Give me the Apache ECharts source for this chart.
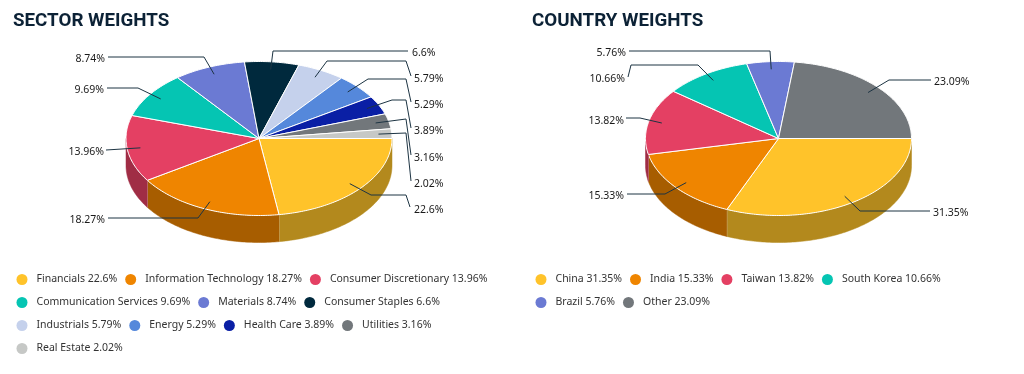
<!DOCTYPE html>
<html>
<head>
<meta charset="utf-8">
<style>html,body{margin:0;padding:0;background:#fff}#c{width:1024px;height:374px}</style>
<script src="https://cdn.jsdelivr.net/npm/echarts@6/dist/echarts.min.js"></script>
</head>
<body>
<div id="c"></div>
<script>
// ---- data ----
const sectorNames = ['Financials','Information Technology','Consumer Discretionary','Communication Services','Materials','Consumer Staples','Industrials','Energy','Health Care','Utilities','Real Estate'];
const sectorValues = [22.6,18.27,13.96,9.69,8.74,6.6,5.79,5.29,3.89,3.16,2.02];
const countryNames = ['China','India','Taiwan','South Korea','Brazil','Other'];
const countryValues = [31.35,15.33,13.82,10.66,5.76,23.09];

// ---- styles ----
const sectorColors = ['#FFC32A','#EF8500','#E44063','#05C5B3','#6B7AD3','#00293D','#C5D1EC','#5588DB','#0A1FA5','#72777B','#C6C8C6'];
const countryColors = ['#FFC32A','#EF8500','#E44063','#05C5B3','#6B7AD3','#72777B'];

// ---- layout: leader-line bends and label anchors, slice by slice ----
const sectorLeaders = [
  {bends:[[371,195],[406,195],[410,207]], text:[414,209,'left']},
  {bends:[[198,218],[108,218]], text:[105,219,'right']},
  {bends:[[106,150]], text:[104,151,'right']},
  {bends:[[138,88],[107,88]], text:[104,89,'right']},
  {bends:[[204,57],[108,57]], text:[105,58,'right']},
  {bends:[[273,51],[408,51]], text:[412,52,'left']},
  {bends:[[327,61],[406,61],[411,76]], text:[414,78,'left']},
  {bends:[[368,79],[406,79],[411,102]], text:[414,104,'left']},
  {bends:[[392,100],[406,100],[411,128]], text:[414,130,'left']},
  {bends:[[406,119],[411,155]], text:[414,157,'left']},
  {bends:[[406,133],[411,181]], text:[414,183,'left']}
];
const countryLeaders = [
  {bends:[[860,211],[930,211]], text:[933,212,'left']},
  {bends:[[665,194],[627,194]], text:[624,195,'right']},
  {bends:[[640,118],[626,118]], text:[624,120,'right']},
  {bends:[[698,65],[631,65],[628,77]], text:[625,78,'right']},
  {bends:[[770,51],[629,51]], text:[626,52,'right']},
  {bends:[[889,80],[931,80]], text:[934,81,'left']}
];
const sectorPie = {cx:259, cy:138.5, rx:133, ry:77, depth:27};
const countryPie = {cx:778.5, cy:138.5, rx:133, ry:77, depth:27};
const anchorFraction = 0.9;
const textNudge = 1;

function darken(hex){
  const n = parseInt(hex.slice(1),16);
  const f = c => Math.round(c*0.7);
  return 'rgb('+f(n>>16&255)+','+f(n>>8&255)+','+f(n&255)+')';
}
function rimPoint(p, deg, dy){
  const a = deg*Math.PI/180;
  return [p.cx+p.rx*Math.cos(a), p.cy+p.ry*Math.sin(a)+(dy||0)];
}
function arc(p, a0, a1, dy){
  const pts=[], n=Math.max(2,Math.ceil(Math.abs(a1-a0)));
  for(let i=0;i<=n;i++) pts.push(rimPoint(p,a0+(a1-a0)*i/n,dy));
  return pts;
}

function sliceSeries(names, values, colors, pie){
  const total = values.reduce((s,v)=>s+v,0);
  let acc = 0;
  return values.map((v,i)=>{
    const start = acc/total*360; acc += v; const end = acc/total*360;
    return {
      type:'custom', coordinateSystem:'none', silent:true, animation:false,
      name: names[i]+' '+v+'%',
      itemStyle:{color:colors[i]},
      data:[{value:[start,end]}],
      renderItem:function(params,api){
        const a0=api.value(0), a1=api.value(1), children=[];
        const w0=Math.max(a0,0), w1=Math.min(a1,180);
        if(w1>w0){
          const top=arc(pie,w0,w1,0), bottom=arc(pie,w1,w0,pie.depth);
          children.push({type:'polygon',shape:{points:top.concat(bottom)},
            style:{fill:darken(colors[i]),stroke:darken(colors[i]),lineWidth:0.5}});
          if(a1<180){
            const t=rimPoint(pie,a1,0), b=rimPoint(pie,a1,pie.depth);
            children.push({type:'line',shape:{x1:t[0],y1:t[1],x2:b[0],y2:b[1]},
              style:{stroke:'rgba(255,255,255,0.6)',lineWidth:1}});
          }
        }
        children.push({type:'polygon',
          shape:{points:[[pie.cx,pie.cy]].concat(arc(pie,a0,a1,0))},
          style:{fill:colors[i],stroke:'#fff',lineWidth:1,lineJoin:'round'}});
        return {type:'group',children:children};
      }
    };
  });
}

function leaderSeries(values, leaders, pie){
  const total = values.reduce((s,v)=>s+v,0);
  let acc = 0;
  const mids = values.map(v=>{const m=(acc+v/2)/total*360; acc+=v; return m;});
  return {
    type:'custom', coordinateSystem:'none', silent:true, animation:false,
    name:'leaders', z:5,
    data:values.map((v,i)=>({value:[mids[i],v,i]})),
    renderItem:function(params,api){
      const a=api.value(0)*Math.PI/180, val=api.value(1), L=leaders[api.value(2)];
      const start=[pie.cx+pie.rx*anchorFraction*Math.cos(a), pie.cy+pie.ry*anchorFraction*Math.sin(a)];
      return {type:'group',children:[
        {type:'polyline',shape:{points:[start].concat(L.bends)},
          style:{fill:null,stroke:'#1D3443',lineWidth:1}},
        {type:'text',style:{text:val+'%',x:L.text[0],y:L.text[1]+textNudge,align:L.text[2],verticalAlign:'middle',
          font:'10.5px "Noto Sans"',fill:'#1a1a1a'}}
      ]};
    }
  };
}

function legendFor(names, values, left, width, top){
  return {
    left:left, top:top, width:width, orient:'horizontal', align:'left',
    icon:'circle', itemWidth:15, itemHeight:11, itemGap:8, padding:0, selectedMode:false,
    textStyle:{fontFamily:'"Noto Sans"',fontSize:10.5,color:'#333',height:15,lineHeight:15,padding:[0,0,0,2]},
    data:names.map((n,i)=>n+' '+values[i]+'%')
  };
}

const titleStyle = {fontFamily:'Roboto',fontWeight:700,fontSize:18.75,color:'#0C2236'};
const chart = echarts.init(document.getElementById('c'),null,{renderer:'canvas'});
chart.setOption({
  backgroundColor:'#fff',
  animation:false,
  title:[
    {text:'SECTOR WEIGHTS',left:13,top:12,padding:0,textStyle:titleStyle},
    {text:'COUNTRY WEIGHTS',left:532,top:12,padding:0,textStyle:titleStyle}
  ],
  legend:[
    legendFor(sectorNames,sectorValues,16.5,480,272),
    legendFor(countryNames,countryValues,535.5,430,272)
  ],
  series:[].concat(
    sliceSeries(sectorNames,sectorValues,sectorColors,sectorPie),
    sliceSeries(countryNames,countryValues,countryColors,countryPie),
    [leaderSeries(sectorValues,sectorLeaders,sectorPie),
     leaderSeries(countryValues,countryLeaders,countryPie)]
  )
});
</script>
</body>
</html>
